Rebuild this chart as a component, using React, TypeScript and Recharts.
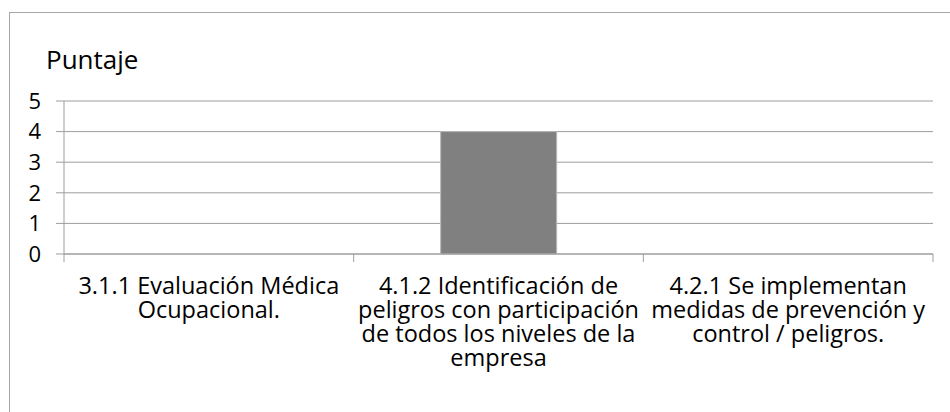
import React from "react";
import { BarChart, Bar, XAxis, YAxis, CartesianGrid } from "recharts";

const categories = [
  "3.1.1 Evaluación Médica\nOcupacional.",
  "4.1.2 Identificación de\npeligros con participación\nde todos los niveles de la\nempresa",
  "4.2.1 Se implementan\nmedidas de prevención y\ncontrol / peligros.",
];
const values = [0, 4, 0];
const yTicks = [0, 1, 2, 3, 4, 5];
const title = "Puntaje";

const FONT = "'Open Sans', sans-serif";
const GRID = "#9d9d9d";

const data = categories.map((c, i) => ({ pos: i + 0.5, value: values[i], label: c }));
const xTicks: number[] = [];
for (let i = 0; i <= categories.length; i++) {
  xTicks.push(i);
  if (i < categories.length) xTicks.push(i + 0.5);
}

const XTick = (props: any) => {
  const { x, y, payload } = props;
  const v = payload.value as number;
  if (Number.isInteger(v)) {
    return <line x1={x} y1={y} x2={x} y2={y + 8} stroke={GRID} strokeWidth={1} />;
  }
  const idx = Math.floor(v);
  const lines = categories[idx].split("\n");
  return (
    <g>
      {lines.map((l, i) => (
        <text
          key={i}
          x={x}
          y={y + 40 + i * 24}
          textAnchor="middle"
          fill="#000"
          fontSize={23.5}
          fontFamily={FONT}
        >
          {l}
        </text>
      ))}
    </g>
  );
};

export default function App() {
  return (
    <div style={{ position: "absolute", left: 0, top: 0, width: 950, height: 412, background: "#fff", overflow: "hidden" }}>
      <div
        style={{
          position: "absolute",
          left: 9,
          top: 12,
          width: 960,
          height: 420,
          border: "1px solid #a6a6a6",
          boxSizing: "border-box",
        }}
      />
      <div
        style={{
          position: "absolute",
          left: 46,
          top: 42,
          fontFamily: FONT,
          fontSize: 26,
          lineHeight: "34px",
          color: "#000",
        }}
      >
        {title}
      </div>
      <div style={{ position: "absolute", left: 0, top: 0 }}>
        <BarChart width={950} height={412} data={data} margin={{ top: 101, right: 17, left: 0, bottom: 0 }}>
          <CartesianGrid horizontal vertical={false} stroke={GRID} strokeWidth={1} />
          <XAxis
            dataKey="pos"
            type="number"
            domain={[0, categories.length]}
            ticks={xTicks}
            interval={0}
            tickLine={false}
            tickSize={0}
            tickMargin={0}
            axisLine={{ stroke: GRID }}
            height={158}
            tick={<XTick />}
          />
          <YAxis
            type="number"
            domain={[0, 5]}
            ticks={yTicks}
            interval={0}
            width={64}
            tickSize={8}
            tickMargin={15}
            axisLine={{ stroke: GRID }}
            tickLine={{ stroke: GRID }}
            tick={{ fill: "#000", fontSize: 22, fontFamily: FONT }}
          />
          <Bar dataKey="value" fill="#808080" stroke="#b8b8b8" strokeWidth={1} barSize={116} isAnimationActive={false} />
        </BarChart>
      </div>
    </div>
  );
}
